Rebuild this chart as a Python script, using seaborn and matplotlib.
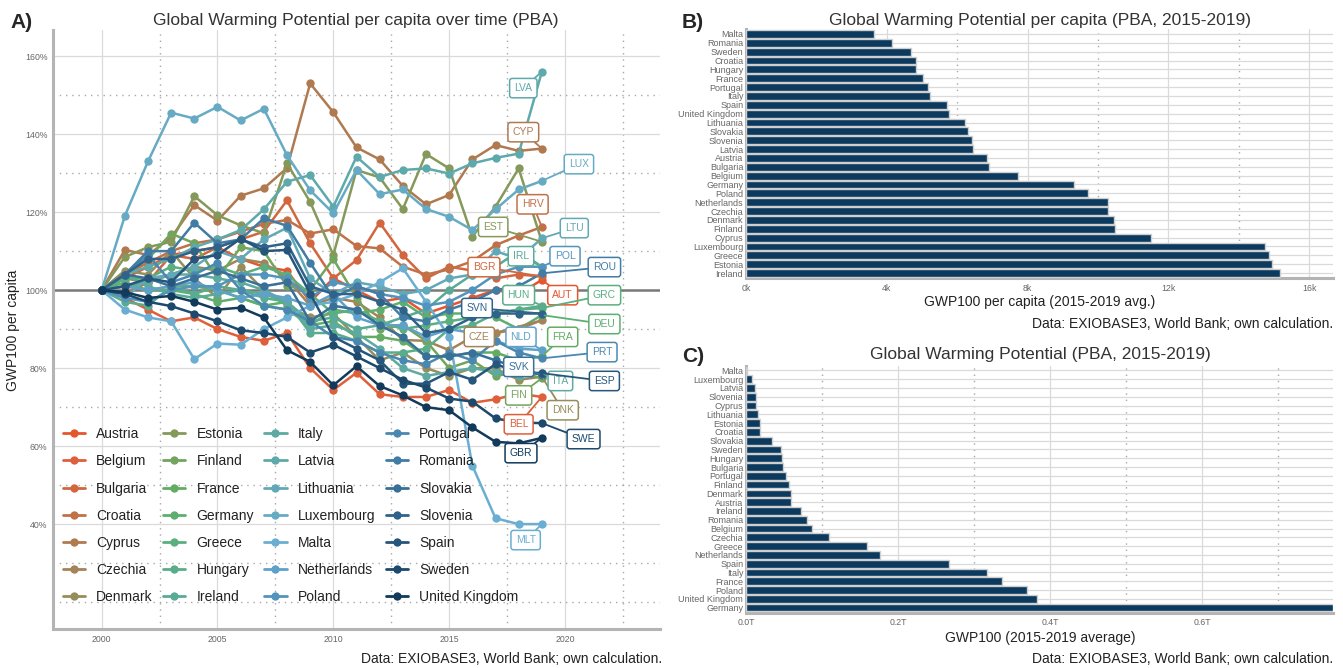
import matplotlib.pyplot as plt
import matplotlib.ticker as mticker
from matplotlib.lines import Line2D
import pandas as pd
import seaborn as sns


YEARS = list(range(2000, 2020))

COUNTRIES = ["Austria", "Belgium", "Bulgaria", "Croatia", "Cyprus", "Czechia", "Denmark",
             "Estonia", "Finland", "France", "Germany", "Greece", "Hungary", "Ireland",
             "Italy", "Latvia", "Lithuania", "Luxembourg", "Malta", "Netherlands", "Poland",
             "Portugal", "Romania", "Slovakia", "Slovenia", "Spain", "Sweden", "United Kingdom"]
ISO3 = ["AUT", "BEL", "BGR", "HRV", "CYP", "CZE", "DNK", "EST", "FIN", "FRA", "DEU", "GRC",
        "HUN", "IRL", "ITA", "LVA", "LTU", "LUX", "MLT", "NLD", "POL", "PRT", "ROU", "SVK",
        "SVN", "ESP", "SWE", "GBR"]

# GWP100 per capita, index (2000 = 100 %)
austria = [100, 103, 106, 109, 110, 111, 108, 106, 105, 97, 103, 100, 97, 98, 94, 96, 98, 100, 99, 102.6]
belgium = [100, 98, 95, 92, 93, 90, 88, 87, 89, 80, 74.4, 78.8, 73.3, 72.6, 72.6, 74.4, 71.1, 72, 73.5, 72.6]
bulgaria = [100, 99, 102, 109, 108, 111, 113, 115, 123, 112, 103, 107.7, 117.3, 109, 103, 106, 105, 103, 104, 103.5]
croatia = [100, 104, 107, 110, 112, 113, 115, 117, 118, 114.5, 115.6, 111.3, 110.7, 106, 104, 105.3, 107.4, 111.5, 114, 116.2]
cyprus = [100, 110.3, 109, 113.5, 121.8, 117.8, 124.2, 126.1, 131.3, 153, 145.6, 136.6, 133.5, 126.7, 122, 124.4, 133.5, 137.2, 135.7, 136.3]
czechia = [100, 103, 102, 104, 106, 105, 108, 107, 103, 96, 98, 97, 93, 87.2, 87, 84.6, 88, 89, 90, 92.3]
denmark = [100, 105, 104, 110, 103, 98, 106, 100, 96, 93, 94, 88, 82, 84, 80, 78, 80, 79.9, 77, 77.8]
estonia = [100, 108.5, 111, 112.4, 124.1, 119.2, 116.6, 114.6, 132.5, 122.6, 109, 130.8, 128.9, 120.8, 134.9, 131.2, 113.7, 121.4, 131.2, 112.4]
finland = [100, 104, 108, 114.5, 112, 103, 111, 110, 101, 100, 108, 98, 90, 91, 87, 80, 82, 78, 79, 77.4]
france = [100, 101, 100, 101, 101, 100, 98, 96, 95, 91, 92, 88, 88, 87, 83, 83, 84, 84, 82, 83]
germany = [100, 102, 100, 100, 99, 97, 98, 96, 97, 91, 95, 94, 95, 97, 93, 94, 94, 93, 90, 93.6]
greece = [100, 103, 103, 106, 105, 106, 104, 106, 104, 99, 94, 95, 92, 90, 91, 92, 93, 94, 95, 95.4]
hungary = [100, 97, 96, 101, 99, 101, 100, 98, 97, 89, 89, 87, 84, 84, 85, 90, 91, 94, 95, 96]
ireland = [100, 104, 101, 99, 98, 99, 100, 99, 97, 92, 93, 90, 91, 93, 95, 100, 104, 106, 110, 106]
italy = [100, 101, 102, 104, 104, 103, 102, 100, 97, 90, 91, 89, 85, 80, 78, 79, 80, 79, 78, 78.7]
latvia = [100, 104, 106, 108, 111, 113, 115.4, 120.7, 127.8, 129.5, 121.4, 134.2, 129, 130.8, 131.2, 129.9, 132.5, 133.9, 135, 156]
lithuania = [100, 98, 103, 104, 106, 110, 108, 113, 116, 103, 99, 102, 101, 99, 100, 103, 104, 110, 108, 113.3]
luxembourg = [100, 119, 133, 145.5, 144, 147, 143.5, 146.5, 134.6, 125.6, 119.7, 130.8, 124.6, 125.8, 120.8, 118.8, 115.4, 120.7, 125.8, 128]
malta = [100, 95, 93, 92, 82.3, 86.3, 86, 90, 93, 96, 97, 99, 102, 105.6, 97, 88, 55, 41.5, 40, 40]
netherlands = [100, 101, 100, 101, 102, 100, 98, 99, 98, 96, 99, 93, 91, 91, 88, 90, 89, 87, 85, 84.6]
poland = [100, 98, 97, 100, 101, 101, 104, 104, 103, 98, 102, 101, 99, 98, 96, 97, 100, 104, 106, 106]
portugal = [100, 104, 109, 102, 104, 107, 100, 96, 95, 92, 88, 87, 84, 82, 81, 84, 82, 87, 84, 82.5]
romania = [100, 104, 110, 110, 117.3, 112, 113, 118.4, 116.5, 107, 98, 101, 99, 93, 92, 95, 97, 100, 101, 104.3]
slovakia = [100, 104, 103, 101, 103, 105, 103, 101, 102, 92, 96, 95, 91, 88, 83, 83, 84, 82, 80, 78.2]
slovenia = [100, 104, 108, 108, 110, 111, 113, 111, 112, 101, 99, 99, 97, 95, 89, 90, 93, 94, 94, 94]
spain = [100, 101, 103, 102, 108, 109, 113.2, 110, 110.3, 99.1, 88, 85, 82, 76, 76, 79, 77, 81, 79, 78.7]
sweden = [100, 99, 97, 95.9, 94, 92, 89.7, 89, 88, 84, 86, 83, 80, 77, 75, 72.2, 71.4, 67.1, 66, 65.9]
united_kingdom = [100, 99.5, 98, 98.5, 97, 95, 95.5, 93, 84.6, 81.6, 75.6, 80.5, 75.4, 73, 70, 69.2, 64.8, 61.1, 60.7, 62.1]

SERIES = [austria, belgium, bulgaria, croatia, cyprus, czechia, denmark, estonia, finland,
          france, germany, greece, hungary, ireland, italy, latvia, lithuania, luxembourg,
          malta, netherlands, poland, portugal, romania, slovakia, slovenia, spain, sweden,
          united_kingdom]

# Panel B: GWP100 per capita, 2015-2019 average
B_COUNTRIES = ["Malta", "Romania", "Sweden", "Croatia", "Hungary", "France", "Portugal", "Italy",
               "Spain", "United Kingdom", "Lithuania", "Slovakia", "Slovenia", "Latvia", "Austria",
               "Bulgaria", "Belgium", "Germany", "Poland", "Netherlands", "Czechia", "Denmark",
               "Finland", "Cyprus", "Luxembourg", "Greece", "Estonia", "Ireland"]
B_VALUES = [3630, 4150, 4680, 4820, 4840, 5040, 5180, 5220, 5700, 5770, 6210, 6300, 6430, 6440,
            6860, 6910, 7740, 9330, 9730, 10300, 10290, 10450, 10480, 11520, 14740, 14870,
            14960, 15170]

# Panel C: total GWP100, 2015-2019 average
C_COUNTRIES = ["Malta", "Luxembourg", "Latvia", "Slovenia", "Cyprus", "Lithuania", "Estonia",
               "Croatia", "Slovakia", "Sweden", "Hungary", "Bulgaria", "Portugal", "Finland",
               "Denmark", "Austria", "Ireland", "Romania", "Belgium", "Czechia", "Greece",
               "Netherlands", "Spain", "Italy", "France", "Poland", "United Kingdom", "Germany"]
C_VALUES = [0.0015e12, 0.0074e12, 0.0119e12, 0.0127e12, 0.0128e12, 0.0162e12, 0.0185e12,
            0.0190e12, 0.0338e12, 0.0460e12, 0.0468e12, 0.0485e12, 0.0525e12, 0.0570e12,
            0.0596e12, 0.0597e12, 0.0720e12, 0.0804e12, 0.0874e12, 0.1085e12, 0.1595e12,
            0.1757e12, 0.2667e12, 0.3172e12, 0.3370e12, 0.3700e12, 0.3826e12, 0.7713e12]

COLORS = ["#e4572e", "#df5f3b", "#d2673f", "#c27048", "#b07a50", "#a38357", "#958e5c",
          "#84995a", "#72a55d", "#64ac64", "#5daf70", "#5baf7e", "#5aad8b", "#59ab96",
          "#5caaa1", "#5ea9ab", "#62a9b7", "#66abc3", "#6aaed1", "#5fa1c8", "#5394bd",
          "#4a88b1", "#417ca5", "#387098", "#2f638a", "#26567b", "#1c496c", "#113a5b"]
PALETTE = dict(zip(COUNTRIES, COLORS))
BAR_COLOR = "#0b3a5e"

# where the ISO labels sit (year, %)
LABEL_POS = {
    "LVA": (2018.2, 151.8), "CYP": (2018.2, 140.5), "LUX": (2020.6, 132.3),
    "HRV": (2018.6, 122.0), "EST": (2016.9, 116.2), "LTU": (2020.4, 115.9),
    "IRL": (2018.1, 108.7), "POL": (2020.0, 108.7), "ROU": (2021.7, 105.9),
    "BGR": (2016.5, 105.9), "AUT": (2019.9, 98.7), "GRC": (2021.7, 98.7),
    "HUN": (2018.0, 98.7), "SVN": (2016.2, 95.4), "DEU": (2021.7, 91.3),
    "CZE": (2016.3, 88.0), "NLD": (2018.1, 88.0), "FRA": (2019.9, 88.0),
    "PRT": (2021.6, 84.1), "SVK": (2018.0, 80.3), "ITA": (2019.8, 76.7),
    "ESP": (2021.7, 76.7), "FIN": (2018.0, 73.0), "DNK": (2019.9, 69.2),
    "BEL": (2018.0, 65.6), "SWE": (2020.8, 61.8), "GBR": (2018.1, 58.2),
    "MLT": (2018.3, 35.9),
}

CAPTION = "Data: EXIOBASE3, World Bank; own calculation."

sns.set_theme(style="white")
plt.rcParams["font.family"] = ["Liberation Sans", "DejaVu Sans"]

GRID = "#dadada"
MINOR = "#a8a8a8"
AXIS = "#b4b4b4"
TICK = "#666666"


def style_axes(ax):
    for side in ["top", "right"]:
        ax.spines[side].set_visible(False)
    for side in ["left", "bottom"]:
        ax.spines[side].set_color(AXIS)
        ax.spines[side].set_linewidth(2.2)
    ax.tick_params(which="both", length=0, colors=TICK, labelsize=6.3, pad=4)
    ax.grid(which="major", color=GRID, linewidth=0.9, linestyle="-")
    ax.grid(which="minor", color=MINOR, linewidth=1.0, linestyle=(0, (1, 3.5)))
    ax.set_axisbelow(True)


fig = plt.figure(figsize=(13.43, 6.68), dpi=100)

# ---------- A) lines ----------
ax = fig.add_axes([53 / 1343, 1 - 629 / 668, 607 / 1343, 599 / 668])
rows = []
for name, vals in zip(COUNTRIES, SERIES):
    for yr, v in zip(YEARS, vals):
        rows.append({"country": name, "year": yr, "value": v})
df = pd.DataFrame(rows)

ax.axhline(100, color="#7a7a7a", linewidth=1.8, zorder=1)
sns.lineplot(data=df, x="year", y="value", hue="country", hue_order=COUNTRIES,
             palette=PALETTE, marker="o", markersize=6, markeredgewidth=0,
             linewidth=1.8, legend=False, ax=ax, zorder=3)

ax.set_xlim(1997.9, 2024.1)
ax.set_ylim(13.1, 166.7)
ax.set_xticks([2000, 2005, 2010, 2015, 2020])
ax.set_xticks([2002.5, 2007.5, 2012.5, 2017.5, 2022.5], minor=True)
ax.set_yticks([40, 60, 80, 100, 120, 140, 160])
ax.set_yticks([20, 30, 50, 70, 90, 110, 130, 150], minor=True)
ax.yaxis.set_major_formatter(mticker.FuncFormatter(lambda v, p: f"{v:.0f}%"))
style_axes(ax)
ax.set_xlabel("")
ax.set_ylabel("")

for name, code, vals in zip(COUNTRIES, ISO3, SERIES):
    c = PALETTE[name]
    ax.annotate(code, xy=(YEARS[-1], vals[-1]), xytext=LABEL_POS[code],
                ha="center", va="center", fontsize=7.5, color=c, zorder=6,
                bbox=dict(boxstyle="round,pad=0.45,rounding_size=0.25", fc="white", ec=c, lw=1.1),
                arrowprops=dict(arrowstyle="-", color=c, lw=1.3, shrinkA=0, shrinkB=2))

handles = [Line2D([0], [0], color=PALETTE[n], lw=2, marker="o", markersize=6,
                  markeredgewidth=0) for n in COUNTRIES]
leg = ax.legend(handles, COUNTRIES, ncol=4, loc="lower left", bbox_to_anchor=(0.0, 0.025),
                frameon=False, fontsize=10, handlelength=1.6, handletextpad=0.8,
                columnspacing=0.75, labelspacing=0.95, borderaxespad=0.3)
for t in leg.get_texts():
    t.set_color("#222222")

fig.text(356 / 1343, 1 - 20 / 668, "Global Warming Potential per capita over time (PBA)",
         ha="center", va="center", fontsize=12.5, color="#333333")
fig.text(10 / 1343, 1 - 22 / 668, "A)", ha="left", va="center", fontsize=15, fontweight="bold")
fig.text(13 / 1343, 1 - 330 / 668, "GWP100 per capita", rotation=90, ha="center",
         va="center", fontsize=10, color="#222222")
fig.text(662 / 1343, 1 - 659 / 668, CAPTION, ha="right", va="center", fontsize=10,
         color="#222222")


# ---------- bar panels ----------
def bar_panel(rect, names, values, xmax, ticks, minor, fmt):
    bax = fig.add_axes(rect)
    sns.barplot(x=values, y=names, orient="h", color=BAR_COLOR, edgecolor="#cfcfcf",
                linewidth=1.0, width=0.88, saturation=1, ax=bax, zorder=3)
    bax.set_xlim(0, xmax)
    bax.set_ylim(len(names) - 0.44, -0.56)
    bax.set_xticks(ticks)
    bax.set_xticks(minor, minor=True)
    bax.xaxis.set_major_formatter(mticker.FuncFormatter(fmt))
    style_axes(bax)
    bax.grid(which="major", axis="y", color=GRID, linewidth=0.9)
    bax.tick_params(axis="y", labelsize=6.5, pad=2)
    bax.set_xlabel("")
    bax.set_ylabel("")
    return bax


bar_panel([746 / 1343, 1 - 278 / 668, 587 / 1343, 249 / 668], B_COUNTRIES, B_VALUES,
          16680, [0, 4000, 8000, 12000, 16000], [2000, 6000, 10000, 14000],
          lambda v, p: f"{v / 1000:.0f}k")
fig.text(1040 / 1343, 1 - 20 / 668, "Global Warming Potential per capita (PBA, 2015-2019)",
         ha="center", va="center", fontsize=12.5, color="#333333")
fig.text(682 / 1343, 1 - 22 / 668, "B)", ha="left", va="center", fontsize=15, fontweight="bold")
fig.text(1040 / 1343, 1 - 302 / 668, "GWP100 per capita (2015-2019 avg.)", ha="center",
         va="center", fontsize=10, color="#222222")
fig.text(1333 / 1343, 1 - 324 / 668, CAPTION, ha="right", va="center", fontsize=10,
         color="#222222")

bar_panel([746 / 1343, 1 - 612.5 / 668, 587 / 1343, 247 / 668], C_COUNTRIES, C_VALUES,
          0.7717e12, [0, 0.2e12, 0.4e12, 0.6e12], [0.1e12, 0.3e12, 0.5e12, 0.7e12],
          lambda v, p: f"{v / 1e12:.1f}T")
fig.text(1040 / 1343, 1 - 355 / 668, "Global Warming Potential (PBA, 2015-2019)",
         ha="center", va="center", fontsize=12.5, color="#333333")
fig.text(682 / 1343, 1 - 357 / 668, "C)", ha="left", va="center", fontsize=15, fontweight="bold")
fig.text(1040 / 1343, 1 - 638 / 668, "GWP100 (2015-2019 average)", ha="center",
         va="center", fontsize=10, color="#222222")
fig.text(1333 / 1343, 1 - 659 / 668, CAPTION, ha="right", va="center", fontsize=10,
         color="#222222")

fig.savefig("out.png", dpi=100, facecolor="white")
